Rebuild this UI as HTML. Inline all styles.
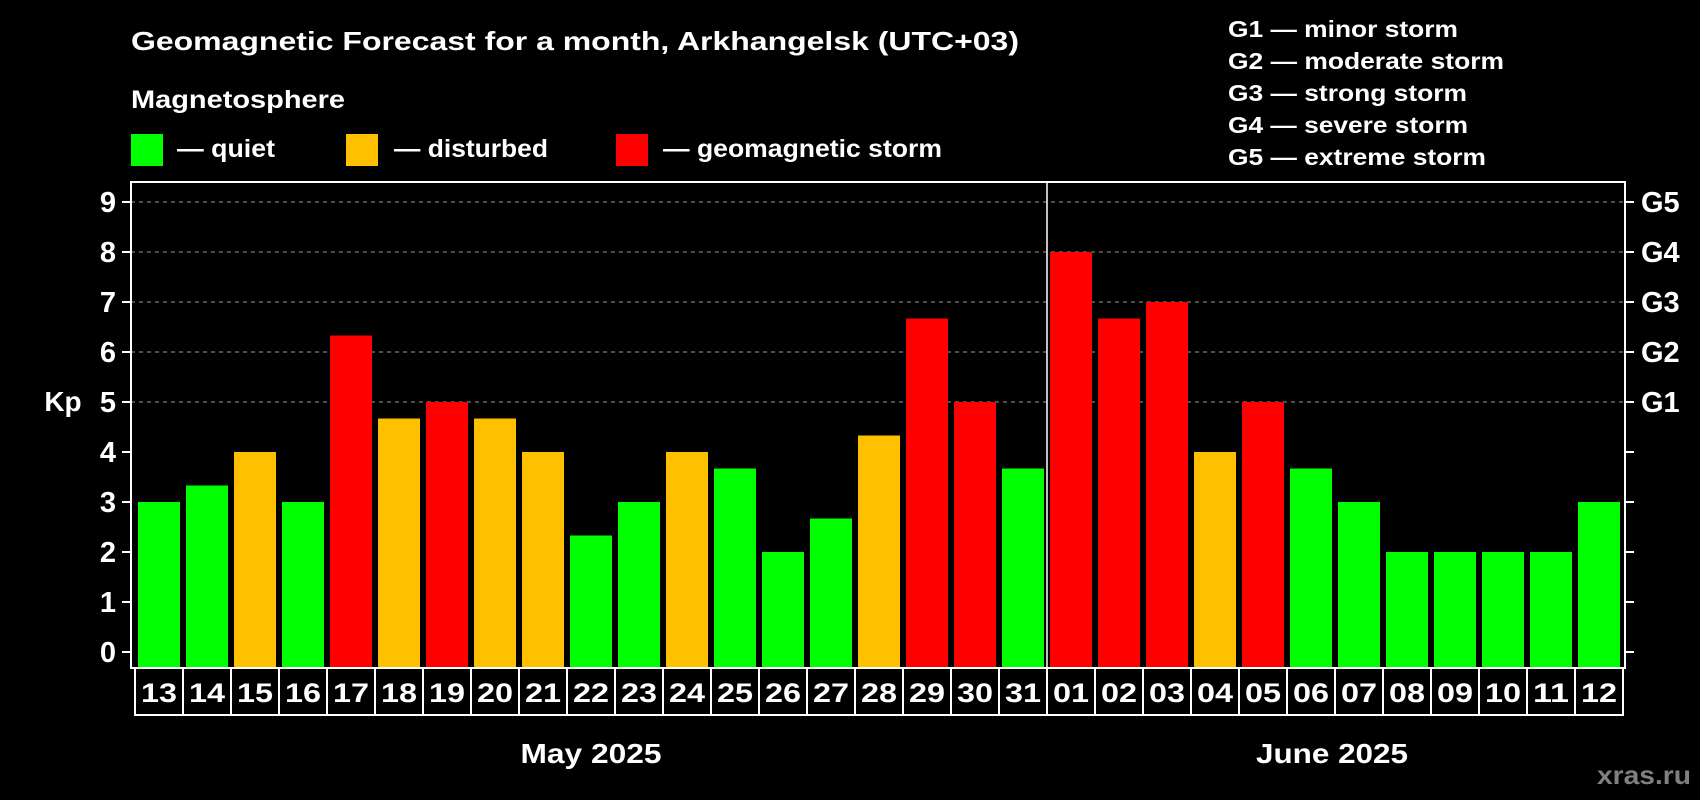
<!DOCTYPE html>
<html><head><meta charset="utf-8"><style>
html,body{margin:0;padding:0;background:#000;width:1700px;height:800px;overflow:hidden}
svg{display:block}
text{font-family:"Liberation Sans",sans-serif;font-weight:bold;fill:#fff}
</style></head><body>
<svg id="chart" width="1700" height="800" viewBox="0 0 1700 800">
<text x="131" y="50" font-size="26" textLength="888" lengthAdjust="spacingAndGlyphs">Geomagnetic Forecast for a month, Arkhangelsk (UTC+03)</text>
<text x="131" y="108" font-size="25" textLength="214" lengthAdjust="spacingAndGlyphs">Magnetosphere</text>
<g><rect x="131" y="134" width="32" height="32" fill="#00ff00"/><text x="177" y="157" font-size="25" textLength="98" lengthAdjust="spacingAndGlyphs">— quiet</text></g>
<g><rect x="346" y="134" width="32" height="32" fill="#ffc000"/><text x="394" y="157" font-size="25" textLength="154" lengthAdjust="spacingAndGlyphs">— disturbed</text></g>
<g><rect x="616" y="134" width="32" height="32" fill="#ff0000"/><text x="663" y="157" font-size="25" textLength="279" lengthAdjust="spacingAndGlyphs">— geomagnetic storm</text></g>
<g font-size="23">
<text x="1228" y="37" textLength="230" lengthAdjust="spacingAndGlyphs">G1 — minor storm</text>
<text x="1228" y="69" textLength="276" lengthAdjust="spacingAndGlyphs">G2 — moderate storm</text>
<text x="1228" y="101" textLength="239" lengthAdjust="spacingAndGlyphs">G3 — strong storm</text>
<text x="1228" y="133" textLength="240" lengthAdjust="spacingAndGlyphs">G4 — severe storm</text>
<text x="1228" y="165" textLength="258" lengthAdjust="spacingAndGlyphs">G5 — extreme storm</text>
</g>
<g id="grid"></g>
<g id="bars"></g>
<g id="axes"></g>
<text x="63" y="411" font-size="28" text-anchor="middle">Kp</text>
<text x="591" y="763" font-size="28" text-anchor="middle" textLength="141" lengthAdjust="spacingAndGlyphs">May 2025</text>
<text x="1332" y="763" font-size="28" text-anchor="middle" textLength="152" lengthAdjust="spacingAndGlyphs">June 2025</text>
<text x="1644" y="784" font-size="26" text-anchor="middle" textLength="94" lengthAdjust="spacingAndGlyphs" style="fill:#808080">xras.ru</text>
</svg>
<script>
const days = ["13","14","15","16","17","18","19","20","21","22","23","24","25","26","27","28","29","30","31","01","02","03","04","05","06","07","08","09","10","11","12"];
const kpValues = [3,3.33,4,3,6.33,4.67,5,4.67,4,2.33,3,4,3.67,2,2.67,4.33,6.67,5,3.67,8,6.67,7,4,5,3.67,3,2,2,2,2,3];
const yTicks = [0,1,2,3,4,5,6,7,8,9];
const gLabels = ["G1","G2","G3","G4","G5"];
const gLevels = [5,6,7,8,9];
const NS="http://www.w3.org/2000/svg";
const plotL=131, plotR=1625, plotT=182, plotB=668;
const y0=652, unit=50;
function yScale(v){return y0 - v*unit;}
const pitch=48, bar0=138, barW=42;
function xScale(i){return bar0 + i*pitch;}
function mk(tag, attrs, parent){const e=document.createElementNS(NS,tag);for(const k in attrs)e.setAttribute(k,attrs[k]);parent.appendChild(e);return e;}
const grid=document.getElementById('grid'), bars=document.getElementById('bars'), axes=document.getElementById('axes');
yTicks.forEach(v=>{
  const y=yScale(v);
  if(v>=5){const l=mk('line',{x1:plotL,x2:plotR,y1:y,y2:y,stroke:'#9a9a9a','stroke-width':1,'stroke-dasharray':'4,4'},grid);
    
    }
  mk('line',{x1:plotL-9,x2:plotL,y1:y,y2:y,stroke:'#fff','stroke-width':2},axes);
  mk('line',{x1:plotR,x2:plotR+9,y1:y,y2:y,stroke:'#fff','stroke-width':2},axes);
  const t=mk('text',{x:116,y:y+10,'font-size':29,'text-anchor':'end'},axes);
  t.textContent=v;
  
  
});
gLabels.forEach((g,i)=>{
  const t=mk('text',{x:1641,y:yScale(gLevels[i])+10,'font-size':29},axes);
  t.textContent=g;
  
  
});
kpValues.forEach((v,i)=>{
  const col = v>=5?'#ff0000':(v>=4?'#ffc000':'#00ff00');
  const y=yScale(v);
  const r=mk('rect',{x:xScale(i),y:y,width:barW,height:plotB-y,fill:col},bars);
  
  
  const cx=xScale(i)-3;
  const c=mk('rect',{x:cx,y:plotB,width:pitch,height:47,fill:'none',stroke:'#fff','stroke-width':2},axes);
  
  
  const t=mk('text',{x:cx+pitch/2,y:702,'font-size':27,'text-anchor':'middle',textLength:36,lengthAdjust:'spacingAndGlyphs'},axes);
  t.textContent=days[i];
  
  
});
const frame=mk('rect',{x:plotL,y:plotT,width:plotR-plotL,height:plotB-plotT,fill:'none',stroke:'#fff','stroke-width':2},axes);


const mi=days.indexOf("01");
const dv=mk('line',{x1:xScale(mi)-3,x2:xScale(mi)-3,y1:plotT,y2:plotB,stroke:'#fff','stroke-width':1.5},axes);


</script>
</body></html>
